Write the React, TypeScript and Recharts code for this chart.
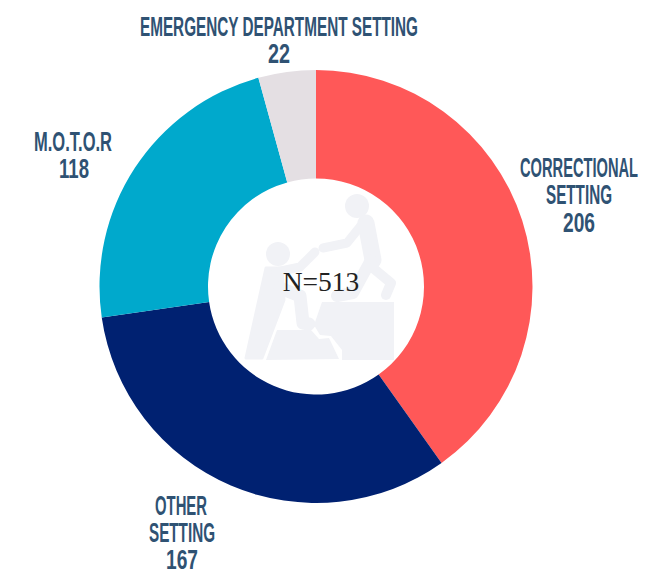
import React from "react";
import { PieChart, Pie, Cell } from "recharts";

// values
const categories = ["Correctional Setting", "Other Setting", "M.O.T.O.R", "Emergency Department Setting"];
const values = [206, 167, 118, 22];
const colors = ["#FF5858", "#002171", "#00A9CC", "#E4DFE3"];
const totalLabel = "N=513";

const data = categories.map((name, i) => ({ name, value: values[i] }));

const ICON = "#F1F2F6";
const TEXT = "#2F5273";

// one line of the condensed headings, stretched to the measured width
const Heading = ({ x, y, w, children }: { x: number; y: number; w: number; children: React.ReactNode }) => (
  <text
    x={x}
    y={y}
    textAnchor="middle"
    textLength={w}
    lengthAdjust="spacingAndGlyphs"
    fontFamily="'Liberation Sans Narrow', 'Liberation Sans', sans-serif"
    fontWeight="bold"
    fontSize={27}
    fill={TEXT}
  >
    {children}
  </text>
);

const Limb = ({ d, w }: { d: string; w: number }) => (
  <path d={d} fill="none" stroke={ICON} strokeWidth={w} strokeLinecap="round" strokeLinejoin="round" />
);

// faint climbing figures behind the total
const Icon = () => (
  <g>
    <circle cx={278} cy={254} r={12} fill={ICON} />
    <circle cx={357} cy={206} r={12} fill={ICON} />
    <path d="M266 268 L282 268 L284 300 L262 358 L246 358 Z" fill={ICON} stroke={ICON} strokeWidth={3} strokeLinejoin="round" />
    <Limb d="M276 272 L300 267 L315 252" w={9} />
    <Limb d="M280 288 L300 296 L303 323 L309 324" w={13} />
    <Limb d="M366 223 L373 260" w={17} />
    <Limb d="M323 248 L347 243 L363 223" w={9} />
    <Limb d="M371 260 L353 293 L337 296" w={12} />
    <Limb d="M373 268 L391 283 L386 295" w={10} />
    <path d="M322 302 L394 302 L394 360 L342 360 L342 350 L331 336 L320 335 L314 325 Z" fill={ICON} />
    <path d="M277 330 L311 330 L319 339 L329 338 L339 359 L266 360 Z" fill={ICON} />
  </g>
);

export default function App() {
  return (
    <div style={{ position: "absolute", left: 0, top: 0, width: 667, height: 572, background: "#fff" }}>
      <PieChart width={667} height={572} margin={{ top: 0, right: 0, bottom: 0, left: 0 }}>
        <Pie
          data={data}
          dataKey="value"
          nameKey="name"
          cx={316}
          cy={286.5}
          innerRadius={108}
          outerRadius={216.5}
          startAngle={90}
          endAngle={-270}
          stroke="none"
          isAnimationActive={false}
        >
          {data.map((d, i) => (
            <Cell key={d.name} fill={colors[i]} />
          ))}
        </Pie>
        <Icon />
        <text x={321} y={291} textAnchor="middle" fontFamily="'Liberation Serif', serif" fontSize={27.5} fill="#222">
          {totalLabel}
        </text>
        <Heading x={279} y={36} w={278}>EMERGENCY DEPARTMENT SETTING</Heading>
        <Heading x={279} y={63} w={22}>{values[3]}</Heading>
        <Heading x={579} y={177} w={118}>CORRECTIONAL</Heading>
        <Heading x={579} y={204} w={66}>SETTING</Heading>
        <Heading x={579} y={232} w={32}>{values[0]}</Heading>
        <Heading x={73} y={151} w={78}>{categories[2]}</Heading>
        <Heading x={74} y={178} w={30}>{values[2]}</Heading>
        <Heading x={181} y={515} w={52}>OTHER</Heading>
        <Heading x={182} y={542} w={66}>SETTING</Heading>
        <Heading x={182} y={569} w={32}>{values[1]}</Heading>
      </PieChart>
    </div>
  );
}
